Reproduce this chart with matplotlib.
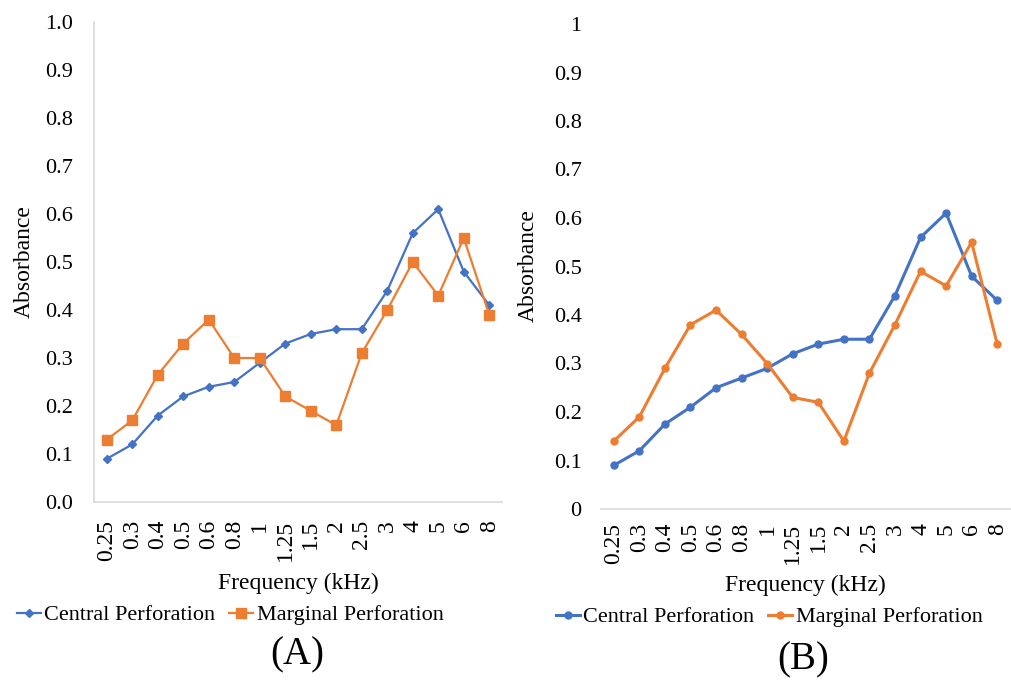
import matplotlib
matplotlib.use("Agg")
import matplotlib.pyplot as plt

plt.rcParams['font.family'] = ['Liberation Serif', 'DejaVu Serif']

freq_labels = ["0.25", "0.3", "0.4", "0.5", "0.6", "0.8", "1", "1.25", "1.5",
               "2", "2.5", "3", "4", "5", "6", "8"]

central_a = [0.09, 0.12, 0.18, 0.22, 0.24, 0.25, 0.29, 0.33, 0.35, 0.36, 0.36,
             0.44, 0.56, 0.61, 0.48, 0.41]
marginal_a = [0.13, 0.17, 0.265, 0.33, 0.38, 0.30, 0.30, 0.22, 0.19, 0.16, 0.31,
              0.40, 0.50, 0.43, 0.55, 0.39]

central_b = [0.09, 0.12, 0.175, 0.21, 0.25, 0.27, 0.29, 0.32, 0.34, 0.35, 0.35,
             0.44, 0.56, 0.61, 0.48, 0.43]
marginal_b = [0.14, 0.19, 0.29, 0.38, 0.41, 0.36, 0.30, 0.23, 0.22, 0.14, 0.28,
              0.38, 0.49, 0.46, 0.55, 0.34]

yticks = [0.0, 0.1, 0.2, 0.3, 0.4, 0.5, 0.6, 0.7, 0.8, 0.9, 1.0]
ytick_labels_a = ["0.0", "0.1", "0.2", "0.3", "0.4", "0.5", "0.6", "0.7", "0.8", "0.9", "1.0"]
ytick_labels_b = ["0", "0.1", "0.2", "0.3", "0.4", "0.5", "0.6", "0.7", "0.8", "0.9", "1"]

BLUE = "#4472C4"
ORANGE = "#ED7D31"
GRAY = "#D9D9D9"

W, H = 1011, 699
fig = plt.figure(figsize=(W / 100, H / 100), dpi=100)


def rect(l, t, r, b):
    return [l / W, 1 - b / H, (r - l) / W, (b - t) / H]


def fx(x):
    return x / W


def fy(y):
    return 1 - y / H


x = list(range(len(freq_labels)))

# ---------- Panel A ----------
axA = fig.add_axes(rect(94, 22, 502, 502))
axA.plot(x, central_a, color=BLUE, lw=1.6, marker="D", ms=4.5, label="Central Perforation")
axA.plot(x, marginal_a, color=ORANGE, lw=1.6, marker="s", ms=6.5, label="Marginal Perforation")
axA.set_xlim(-0.5, len(x) - 0.5)
axA.set_ylim(0, 1.0)
axA.set_yticks(yticks)
axA.set_yticklabels(ytick_labels_a, fontsize=16)
axA.set_xticks(x)
axA.set_xticklabels(freq_labels, rotation=90, fontsize=17)
axA.tick_params(axis="both", length=0)
axA.tick_params(axis="y", pad=15)
axA.tick_params(axis="x", pad=13)
for s in ["top", "right"]:
    axA.spines[s].set_visible(False)
for s in ["left", "bottom"]:
    axA.spines[s].set_color(GRAY)
    axA.spines[s].set_linewidth(1.2)
axA.set_ylabel("Absorbance", fontsize=17)
axA.yaxis.set_label_coords(fx(35), fy(262), transform=fig.transFigure)
axA.set_xlabel("Frequency (kHz)", fontsize=17)
axA.xaxis.set_label_coords(fx(298), fy(583), transform=fig.transFigure)
axA.xaxis.label.set_va("center")
axA.legend(loc="center", bbox_to_anchor=(fx(230), fy(615)), bbox_transform=fig.transFigure,
           ncol=2, frameon=False, fontsize=16, handlelength=1.1, handletextpad=0.15,
           columnspacing=0.6, borderpad=0, borderaxespad=0)
fig.text(fx(297), fy(655), "(A)", fontsize=28, ha="center", va="center")

# ---------- Panel B ----------
axB = fig.add_axes(rect(601, 24, 1010, 509))
axB.plot(x, central_b, color=BLUE, lw=2.2, marker="o", ms=5, label="Central Perforation")
axB.plot(x, marginal_b, color=ORANGE, lw=2.2, marker="o", ms=5, label="Marginal Perforation")
axB.set_xlim(-0.5, len(x) - 0.5)
axB.set_ylim(0, 1.0)
axB.set_yticks(yticks)
axB.set_yticklabels(ytick_labels_b, fontsize=16)
axB.set_xticks(x)
axB.set_xticklabels(freq_labels, rotation=90, fontsize=17)
axB.tick_params(axis="both", length=0)
axB.tick_params(axis="y", pad=14)
axB.tick_params(axis="x", pad=10)
for s in ["top", "right", "left"]:
    axB.spines[s].set_visible(False)
axB.spines["bottom"].set_color(GRAY)
axB.spines["bottom"].set_linewidth(1.2)
axB.set_ylabel("Absorbance", fontsize=17)
axB.yaxis.set_label_coords(fx(539), fy(266), transform=fig.transFigure)
axB.set_xlabel("Frequency (kHz)", fontsize=17)
axB.xaxis.set_label_coords(fx(805), fy(585), transform=fig.transFigure)
axB.xaxis.label.set_va("center")
axB.legend(loc="center", bbox_to_anchor=(fx(769), fy(617)), bbox_transform=fig.transFigure,
           ncol=2, frameon=False, fontsize=16, handlelength=1.1, handletextpad=0.15,
           columnspacing=0.6, borderpad=0, borderaxespad=0)
fig.text(fx(803), fy(660), "(B)", fontsize=28, ha="center", va="center")

fig.savefig("out.png", dpi=100, facecolor="white")
